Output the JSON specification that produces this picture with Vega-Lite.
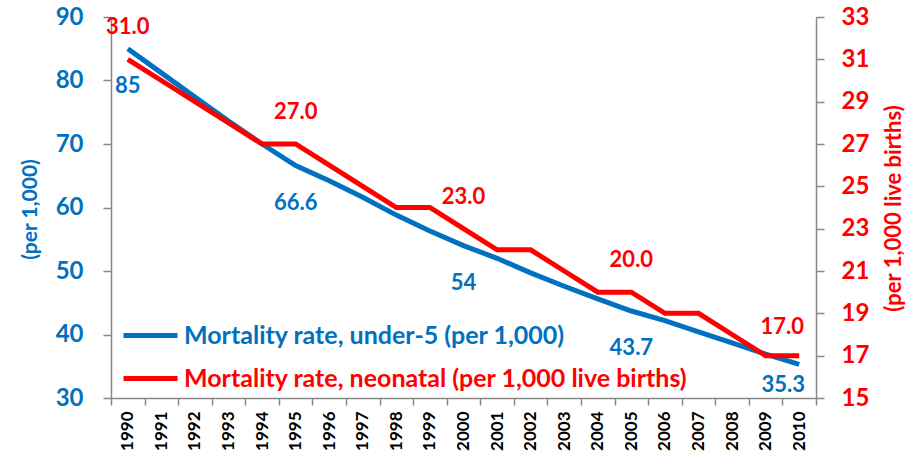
{
  "$schema": "https://vega.github.io/schema/vega-lite/v6.json",
  "width": 705,
  "height": 381,
  "autosize": {"type": "none"},
  "padding": {"left": 111, "top": 17, "right": 90, "bottom": 58},
  "background": "white",
  "config": {
    "view": {"stroke": null},
    "font": "Lato",
    "axis": {"grid": false, "domainColor": "#868686", "tickColor": "#868686", "domainWidth": 1.5, "tickWidth": 1.5}
  },
  "data": {
    "values": [
      {"year": 1990, "series": "Mortality rate, under-5 (per 1,000)", "value": 85},
      {"year": 1991, "series": "Mortality rate, under-5 (per 1,000)", "value": 81.2},
      {"year": 1992, "series": "Mortality rate, under-5 (per 1,000)", "value": 77.4},
      {"year": 1993, "series": "Mortality rate, under-5 (per 1,000)", "value": 73.6},
      {"year": 1994, "series": "Mortality rate, under-5 (per 1,000)", "value": 70},
      {"year": 1995, "series": "Mortality rate, under-5 (per 1,000)", "value": 66.6},
      {"year": 1996, "series": "Mortality rate, under-5 (per 1,000)", "value": 64.2},
      {"year": 1997, "series": "Mortality rate, under-5 (per 1,000)", "value": 61.6},
      {"year": 1998, "series": "Mortality rate, under-5 (per 1,000)", "value": 58.8},
      {"year": 1999, "series": "Mortality rate, under-5 (per 1,000)", "value": 56.3},
      {"year": 2000, "series": "Mortality rate, under-5 (per 1,000)", "value": 54},
      {"year": 2001, "series": "Mortality rate, under-5 (per 1,000)", "value": 52},
      {"year": 2002, "series": "Mortality rate, under-5 (per 1,000)", "value": 49.7},
      {"year": 2003, "series": "Mortality rate, under-5 (per 1,000)", "value": 47.6},
      {"year": 2004, "series": "Mortality rate, under-5 (per 1,000)", "value": 45.6},
      {"year": 2005, "series": "Mortality rate, under-5 (per 1,000)", "value": 43.7},
      {"year": 2006, "series": "Mortality rate, under-5 (per 1,000)", "value": 42.2},
      {"year": 2007, "series": "Mortality rate, under-5 (per 1,000)", "value": 40.4},
      {"year": 2008, "series": "Mortality rate, under-5 (per 1,000)", "value": 38.7},
      {"year": 2009, "series": "Mortality rate, under-5 (per 1,000)", "value": 36.9},
      {"year": 2010, "series": "Mortality rate, under-5 (per 1,000)", "value": 35.3},
      {"year": 1990, "series": "Mortality rate, neonatal (per 1,000 live births)", "value": 31},
      {"year": 1991, "series": "Mortality rate, neonatal (per 1,000 live births)", "value": 30},
      {"year": 1992, "series": "Mortality rate, neonatal (per 1,000 live births)", "value": 29},
      {"year": 1993, "series": "Mortality rate, neonatal (per 1,000 live births)", "value": 28},
      {"year": 1994, "series": "Mortality rate, neonatal (per 1,000 live births)", "value": 27},
      {"year": 1995, "series": "Mortality rate, neonatal (per 1,000 live births)", "value": 27},
      {"year": 1996, "series": "Mortality rate, neonatal (per 1,000 live births)", "value": 26},
      {"year": 1997, "series": "Mortality rate, neonatal (per 1,000 live births)", "value": 25},
      {"year": 1998, "series": "Mortality rate, neonatal (per 1,000 live births)", "value": 24},
      {"year": 1999, "series": "Mortality rate, neonatal (per 1,000 live births)", "value": 24},
      {"year": 2000, "series": "Mortality rate, neonatal (per 1,000 live births)", "value": 23},
      {"year": 2001, "series": "Mortality rate, neonatal (per 1,000 live births)", "value": 22},
      {"year": 2002, "series": "Mortality rate, neonatal (per 1,000 live births)", "value": 22},
      {"year": 2003, "series": "Mortality rate, neonatal (per 1,000 live births)", "value": 21},
      {"year": 2004, "series": "Mortality rate, neonatal (per 1,000 live births)", "value": 20},
      {"year": 2005, "series": "Mortality rate, neonatal (per 1,000 live births)", "value": 20},
      {"year": 2006, "series": "Mortality rate, neonatal (per 1,000 live births)", "value": 19},
      {"year": 2007, "series": "Mortality rate, neonatal (per 1,000 live births)", "value": 19},
      {"year": 2008, "series": "Mortality rate, neonatal (per 1,000 live births)", "value": 18},
      {"year": 2009, "series": "Mortality rate, neonatal (per 1,000 live births)", "value": 17},
      {"year": 2010, "series": "Mortality rate, neonatal (per 1,000 live births)", "value": 17}
    ]
  },
  "encoding": {
    "x": {
      "field": "year", "type": "ordinal",
      "scale": {"type": "band", "paddingInner": 0, "paddingOuter": 0},
      "axis": {"title": null, "tickBand": "extent", "labelAngle": -90, "labelFont": "Lato", "labelFontSize": 17, "labelFontWeight": "bold", "labelColor": "#000000", "tickSize": 7, "labelPadding": 6}
    }
  },
  "layer": [
    {
      "transform": [{"filter": "datum.series == 'Mortality rate, under-5 (per 1,000)'"}],
      "encoding": {
        "y": {
          "field": "value", "type": "quantitative",
          "scale": {"domain": [30, 90], "nice": false, "zero": false},
          "axis": {
            "orient": "left", "values": [30, 40, 50, 60, 70, 80, 90],
            "title": "(per 1,000)", "titleColor": "#0070C0", "titleFont": "Lato", "titleFontSize": 21, "titleFontWeight": "bold",
            "titleAngle": -90, "titleAlign": "center", "titleBaseline": "middle", "titleX": -81, "titleY": 192,
            "labelColor": "#0070C0", "labelFont": "Lato", "labelFontSize": 24, "labelFontWeight": "bold",
            "tickSize": 8, "labelPadding": 20
          }
        }
      },
      "layer": [
        {
          "mark": {"type": "line", "strokeWidth": 5},
          "encoding": {
            "color": {
              "field": "series", "type": "nominal",
              "scale": {"domain": ["Mortality rate, under-5 (per 1,000)", "Mortality rate, neonatal (per 1,000 live births)"], "range": ["#0070C0", "#FF0000"]},
              "legend": {
                "title": null, "orient": "none", "legendX": 10, "legendY": 289,
                "symbolType": "stroke", "symbolSize": 2916, "symbolStrokeWidth": 5,
                "labelFont": "Lato", "labelFontSize": 25, "labelFontWeight": "bold", "labelOffset": 4, "labelLimit": 800,
                "rowPadding": -8,
                "encode": {"labels": {"update": {"fill": {"signal": "datum.label == 'Mortality rate, under-5 (per 1,000)' ? '#0070C0' : '#FF0000'"}}}}
              }
            }
          }
        },
        {
          "transform": [{"filter": "datum.year % 5 == 0 && datum.year < 2010"}],
          "mark": {"type": "text", "color": "#0070C0", "font": "Lato", "fontSize": 22, "fontWeight": "bold", "dy": 37},
          "encoding": {"text": {"field": "value", "type": "quantitative", "format": "~g"}}
        },
        {
          "transform": [{"filter": "datum.year == 2010"}],
          "mark": {"type": "text", "color": "#0070C0", "font": "Lato", "fontSize": 22, "fontWeight": "bold", "dy": 21, "dx": -16},
          "encoding": {"text": {"field": "value", "type": "quantitative", "format": "~g"}}
        }
      ]
    },
    {
      "transform": [{"filter": "datum.series == 'Mortality rate, neonatal (per 1,000 live births)'"}],
      "encoding": {
        "y": {
          "field": "value", "type": "quantitative",
          "scale": {"domain": [15, 33], "nice": false, "zero": false},
          "axis": {
            "orient": "right", "values": [15, 17, 19, 21, 23, 25, 27, 29, 31, 33],
            "title": "(per 1,000 live births)", "titleColor": "#FF0000", "titleFont": "Lato", "titleFontSize": 22, "titleFontWeight": "bold",
            "titleAngle": -90, "titleAlign": "center", "titleBaseline": "middle", "titleX": 77, "titleY": 191,
            "labelColor": "#FF0000", "labelFont": "Lato", "labelFontSize": 24, "labelFontWeight": "bold",
            "tickSize": 8, "labelPadding": 17
          }
        }
      },
      "layer": [
        {
          "mark": {"type": "line", "strokeWidth": 5},
          "encoding": {"color": {"field": "series", "type": "nominal"}}
        },
        {
          "transform": [{"filter": "datum.year % 5 == 0 && datum.year < 2010"}],
          "mark": {"type": "text", "color": "#FF0000", "font": "Lato", "fontSize": 22, "fontWeight": "bold", "dy": -32},
          "encoding": {"text": {"field": "value", "type": "quantitative", "format": ".1f"}}
        },
        {
          "transform": [{"filter": "datum.year == 2010"}],
          "mark": {"type": "text", "color": "#FF0000", "font": "Lato", "fontSize": 22, "fontWeight": "bold", "dy": -29, "dx": -17},
          "encoding": {"text": {"field": "value", "type": "quantitative", "format": ".1f"}}
        }
      ]
    }
  ],
  "resolve": {"scale": {"y": "independent"}}
}
